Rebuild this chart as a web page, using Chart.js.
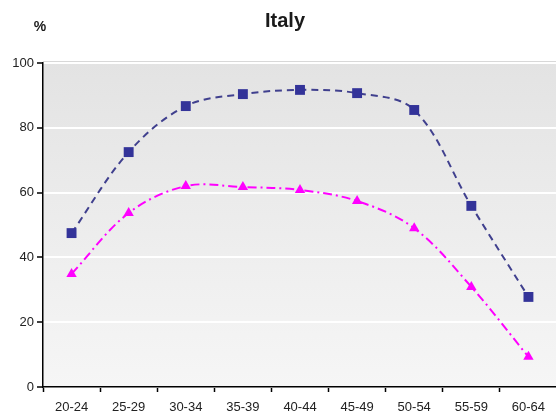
<!DOCTYPE html>
<html>
<head>
<meta charset="utf-8">
<script src="https://cdn.jsdelivr.net/npm/chart.js@4/dist/chart.umd.min.js"></script>
<style>
  html, body { margin: 0; padding: 0; background: #fff; }
  #wrap { width: 556px; height: 419px; position: relative; overflow: hidden; }
</style>
</head>
<body>
<div id="wrap"><canvas id="c" width="564" height="419"></canvas></div>
<script>
// Age groups on the category axis
const ageGroups = ['20-24', '25-29', '30-34', '35-39', '40-44', '45-49', '50-54', '55-59', '60-64'];
// Rates in percent for each age group
const seriesMen = [47.5, 72.5, 86.7, 90.4, 91.7, 90.7, 85.5, 55.9, 27.8];
const seriesWomen = [34.9, 53.7, 62.0, 61.7, 60.8, 57.4, 49.0, 30.9, 9.3];
// Value axis
const yTicks = [0, 20, 40, 60, 80, 100];

const chartTitle = 'Italy';
const unitLabel = '%';

const FONT = '"Liberation Sans", Arial, sans-serif';

// Plot background: soft vertical gradient plus title and unit text
const decor = {
  id: 'decor',
  beforeDraw(chart) {
    const { ctx, chartArea: a } = chart;
    ctx.save();
    const g = ctx.createLinearGradient(0, a.top, 0, a.bottom);
    g.addColorStop(0, '#e3e3e3');
    g.addColorStop(1, '#f6f6f6');
    ctx.fillStyle = g;
    ctx.fillRect(a.left, a.top, a.right - a.left, a.bottom - a.top);
    ctx.strokeStyle = '#d8d8d8';
    ctx.lineWidth = 1;
    ctx.beginPath();
    ctx.moveTo(a.left, a.top - 1.5);
    ctx.lineTo(a.right, a.top - 1.5);
    ctx.stroke();
    ctx.restore();
  },
  afterDraw(chart) {
    const { ctx } = chart;
    ctx.save();
    ctx.fillStyle = '#1a1a1a';
    ctx.textAlign = 'center';
    ctx.textBaseline = 'alphabetic';
    ctx.font = 'bold 20px ' + FONT;
    ctx.fillText(chartTitle, 285, 27);
    ctx.font = 'bold 14px ' + FONT;
    ctx.fillText(unitLabel, 40, 31);
    ctx.restore();
  }
};

new Chart(document.getElementById('c'), {
  type: 'line',
  data: {
    labels: ageGroups,
    datasets: [
      {
        data: seriesMen,
        borderColor: '#40408e',
        backgroundColor: '#333399',
        borderWidth: 2,
        borderDash: [7, 5],
        tension: 0.35,
        pointStyle: 'rect',
        pointRadius: 7,
        pointBorderWidth: 0,
        pointBackgroundColor: '#333399',
        fill: false
      },
      {
        data: seriesWomen,
        borderColor: '#ff00ff',
        backgroundColor: '#ff00ff',
        borderWidth: 2,
        borderDash: [9, 4, 2, 4],
        tension: 0.35,
        pointStyle: 'triangle',
        pointRadius: 6,
        pointBorderWidth: 0,
        pointBackgroundColor: '#ff00ff',
        fill: false
      }
    ]
  },
  options: {
    responsive: false,
    animation: false,
    devicePixelRatio: 1,
    layout: { padding: { top: 63, right: 0, left: 0, bottom: 0 } },
    plugins: {
      legend: { display: false },
      title: { display: false },
      tooltip: { enabled: false }
    },
    scales: {
      x: {
        offset: true,
        grid: {
          offset: true,
          drawOnChartArea: false,
          drawTicks: true,
          tickLength: 5,
          tickColor: '#000',
          tickWidth: 1.5
        },
        border: { color: '#000', width: 1.5 },
        ticks: {
          color: '#222',
          font: { family: FONT, size: 13 },
          padding: 8,
          maxRotation: 0,
          autoSkip: false
        },
        afterFit(s) { s.height = 32; }
      },
      y: {
        min: 0,
        max: 100,
        afterBuildTicks(s) { s.ticks = yTicks.map(v => ({ value: v })); },
        grid: {
          color: '#ffffff',
          lineWidth: 2,
          drawTicks: true,
          tickLength: 6,
          tickColor: '#000',
          tickWidth: 1.5
        },
        border: { color: '#000', width: 1.5 },
        ticks: {
          color: '#222',
          font: { family: FONT, size: 13 },
          padding: 3
        },
        afterFit(s) { s.width = 43; }
      }
    }
  },
  plugins: [decor]
});
</script>
</body>
</html>
